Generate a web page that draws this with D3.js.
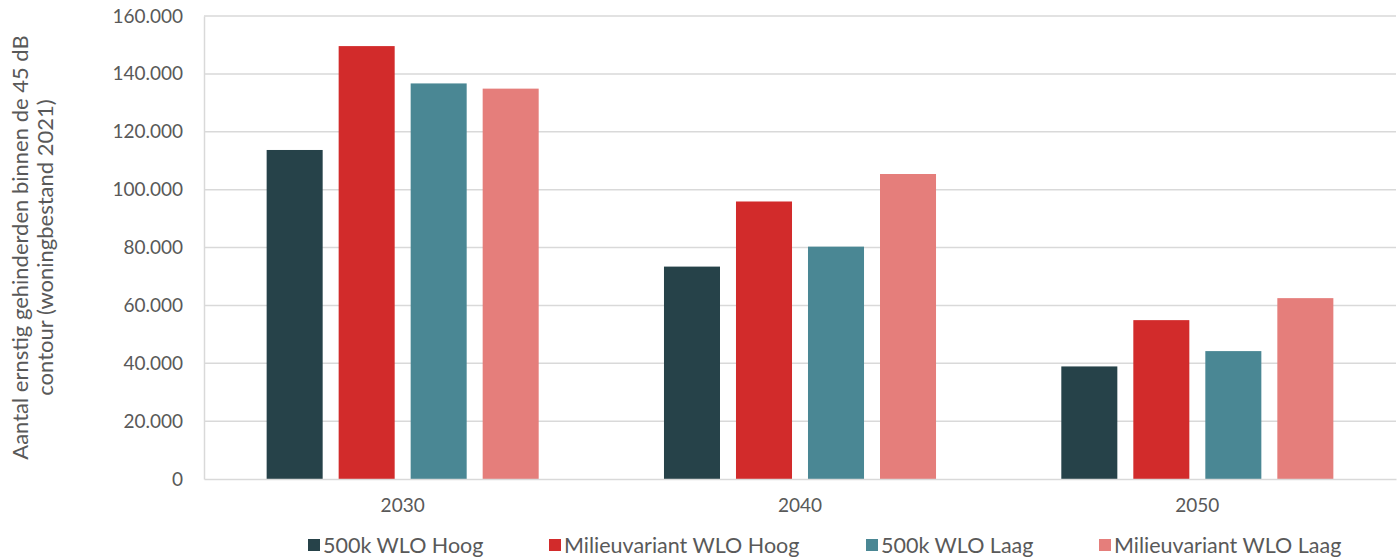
<!DOCTYPE html>
<html>
<head>
<meta charset="utf-8">
<script src="https://cdn.jsdelivr.net/npm/d3@7"></script>
<style>
  body { margin: 0; background: #fff; }
  text { font-family: Lato, "Open Sans", sans-serif; fill: #595959; }
</style>
</head>
<body>
<svg></svg>
<script>
const years = ['2030', '2040', '2050'];
const series = ['500k WLO Hoog', 'Milieuvariant WLO Hoog', '500k WLO Laag', 'Milieuvariant WLO Laag'];
const colors = ['#264249', '#d22b2b', '#4a8794', '#e57e7b'];
// values per series, one per year
const hoog500k = [113700, 73400, 38900];
const milieuHoog = [149600, 95900, 54900];
const laag500k = [136700, 80300, 44200];
const milieuLaag = [134900, 105400, 62500];
const yTicks = [0, 20000, 40000, 60000, 80000, 100000, 120000, 140000, 160000];

const values = [hoog500k, milieuHoog, laag500k, milieuLaag];
const rows = years.map((year, i) => ({
  year,
  bars: series.map((s, j) => ({ key: s, value: values[j][i], color: colors[j] }))
}));

const width = 1400;
const height = 560;
const margin = { left: 204, right: 4, top: 16, bottom: 81 };

const svg = d3.select('svg')
  .attr('width', width)
  .attr('height', height);

const x0 = d3.scaleBand()
  .domain(years)
  .range([margin.left, width - margin.right]);

const x1 = d3.scaleBand()
  .domain(series)
  .range([0, x0.bandwidth()])
  .paddingInner(0.222)
  .paddingOuter(0.87);

const y = d3.scaleLinear()
  .domain([0, 160000])
  .range([height - margin.bottom, margin.top]);

const fmt = v => d3.format(',')(v).replace(/,/g, '.');

// GRIDLINES
svg.append('g')
  .selectAll('line')
  .data(yTicks.slice(1))
  .enter().append('line')
  .attr('x1', margin.left)
  .attr('x2', width - margin.right)
  .attr('y1', d => y(d))
  .attr('y2', d => y(d))
  .attr('stroke', '#d9d9d9')
  .attr('stroke-width', 1.5);

// left axis
const yAxis = svg.append('g')
  .attr('transform', `translate(${margin.left},0)`)
  .call(d3.axisLeft(y).tickValues(yTicks).tickFormat(fmt).tickSize(0).tickPadding(21));
yAxis.select('.domain').attr('stroke', '#d9d9d9').attr('stroke-width', 1.5);
yAxis.selectAll('text').attr('font-size', 19).attr('fill', '#595959')
  .style('font-family', 'Lato, sans-serif');

// BARS
const groups = svg.append('g')
  .selectAll('g')
  .data(rows)
  .enter().append('g')
  .attr('transform', d => `translate(${x0(d.year)},0)`);

groups.selectAll('rect')
  .data(d => d.bars)
  .enter().append('rect')
  .attr('x', d => x1(d.key))
  .attr('width', x1.bandwidth())
  .attr('y', d => y(d.value))
  .attr('height', d => y(0) - y(d.value))
  .attr('fill', d => d.color);

// bottom axis
const xAxis = svg.append('g')
  .attr('transform', `translate(0,${y(0)})`)
  .call(d3.axisBottom(x0).tickSize(0).tickPadding(20));
xAxis.select('.domain').attr('stroke', '#d9d9d9').attr('stroke-width', 1.5);
xAxis.selectAll('text').attr('font-size', 19).attr('fill', '#595959')
  .style('font-family', 'Lato, sans-serif');

// y title
const yTitle = svg.append('text')
  .attr('transform', `translate(28,${(y(0) + y(160000)) / 2}) rotate(-90)`)
  .attr('text-anchor', 'middle')
  .attr('font-size', 22);
yTitle.append('tspan').attr('x', 0).attr('dy', 0).text('Aantal ernstig gehinderden binnen de 45 dB');
yTitle.append('tspan').attr('x', 0).attr('dy', 25).text('contour (woningbestand 2021)');

// LEGEND
const legend = svg.append('g').attr('transform', 'translate(0,545)');
const itemX = [308, 549, 866, 1099];
const items = legend.selectAll('g')
  .data(series)
  .enter().append('g')
  .attr('transform', (d, i) => `translate(${itemX[i]},0)`);
items.append('rect')
  .attr('x', 0).attr('y', -6)
  .attr('width', 12).attr('height', 12)
  .attr('fill', (d, i) => colors[i]);
items.append('text')
  .attr('x', 15)
  .attr('dy', '0.35em')
  .attr('font-size', 21.5)
  .text(d => d);
</script>
</body>
</html>
